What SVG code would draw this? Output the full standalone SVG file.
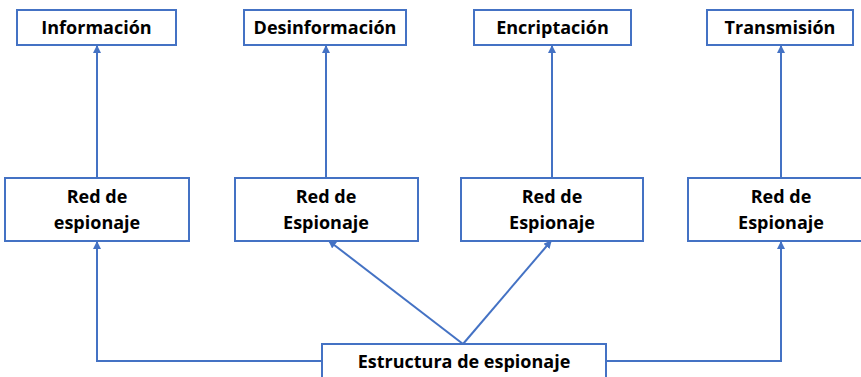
<svg xmlns="http://www.w3.org/2000/svg" width="861" height="377" viewBox="0 0 861 377">
<style>
.box{fill:#fff;stroke:#4472C4;stroke-width:2}
.t{font-family:"Open Sans","Liberation Sans",sans-serif;font-weight:bold;font-size:18px;fill:#000;text-anchor:middle}
.c{fill:none;stroke:#4472C4;stroke-width:2}
</style>
<defs>
<marker id="a" markerWidth="8" markerHeight="8" refX="7" refY="4" orient="auto" markerUnits="userSpaceOnUse">
<path d="M0,0 L8,4 L0,8 Z" fill="#4472C4"/>
</marker>
</defs>
<rect width="861" height="377" fill="#fff"/>
<g id="connectors">
<line class="c" x1="97" y1="178" x2="97" y2="46" marker-end="url(#a)"/>
<line class="c" x1="326" y1="178" x2="326" y2="46" marker-end="url(#a)"/>
<line class="c" x1="552" y1="178" x2="552" y2="46" marker-end="url(#a)"/>
<line class="c" x1="781" y1="178" x2="781" y2="46" marker-end="url(#a)"/>
<polyline class="c" points="322,361 97,361 97,242" marker-end="url(#a)"/>
<polyline class="c" points="606,361 781,361 781,242" marker-end="url(#a)"/>
<line class="c" x1="463" y1="344" x2="329" y2="241" marker-end="url(#a)"/>
<line class="c" x1="463" y1="344" x2="551" y2="241" marker-end="url(#a)"/>
</g>
<g id="informacion"><rect class="box" x="17" y="10" width="159" height="35"/><text class="t" x="96.5" y="34">Información</text></g>
<g id="desinformacion"><rect class="box" x="244" y="10" width="162" height="35"/><text class="t" x="325" y="34">Desinformación</text></g>
<g id="encriptacion"><rect class="box" x="474" y="10" width="157" height="35"/><text class="t" x="552.5" y="34">Encriptación</text></g>
<g id="transmision"><rect class="box" x="707" y="10" width="146" height="35"/><text class="t" x="780" y="34">Transmisión</text></g>
<g id="red1"><rect class="box" x="5" y="178" width="184" height="63"/><text class="t" x="97" y="203">Red de</text><text class="t" x="97" y="229">espionaje</text></g>
<g id="red2"><rect class="box" x="235" y="178" width="183" height="63"/><text class="t" x="326" y="203">Red de</text><text class="t" x="326" y="229">Espionaje</text></g>
<g id="red3"><rect class="box" x="461" y="178" width="182" height="63"/><text class="t" x="552" y="203">Red de</text><text class="t" x="552" y="229">Espionaje</text></g>
<g id="red4"><rect class="box" x="688" y="178" width="185" height="63"/><text class="t" x="781" y="203">Red de</text><text class="t" x="781" y="229">Espionaje</text></g>
<g id="estructura"><rect class="box" x="322" y="344" width="284" height="45"/><text class="t" x="464" y="368">Estructura de espionaje</text></g>
</svg>
